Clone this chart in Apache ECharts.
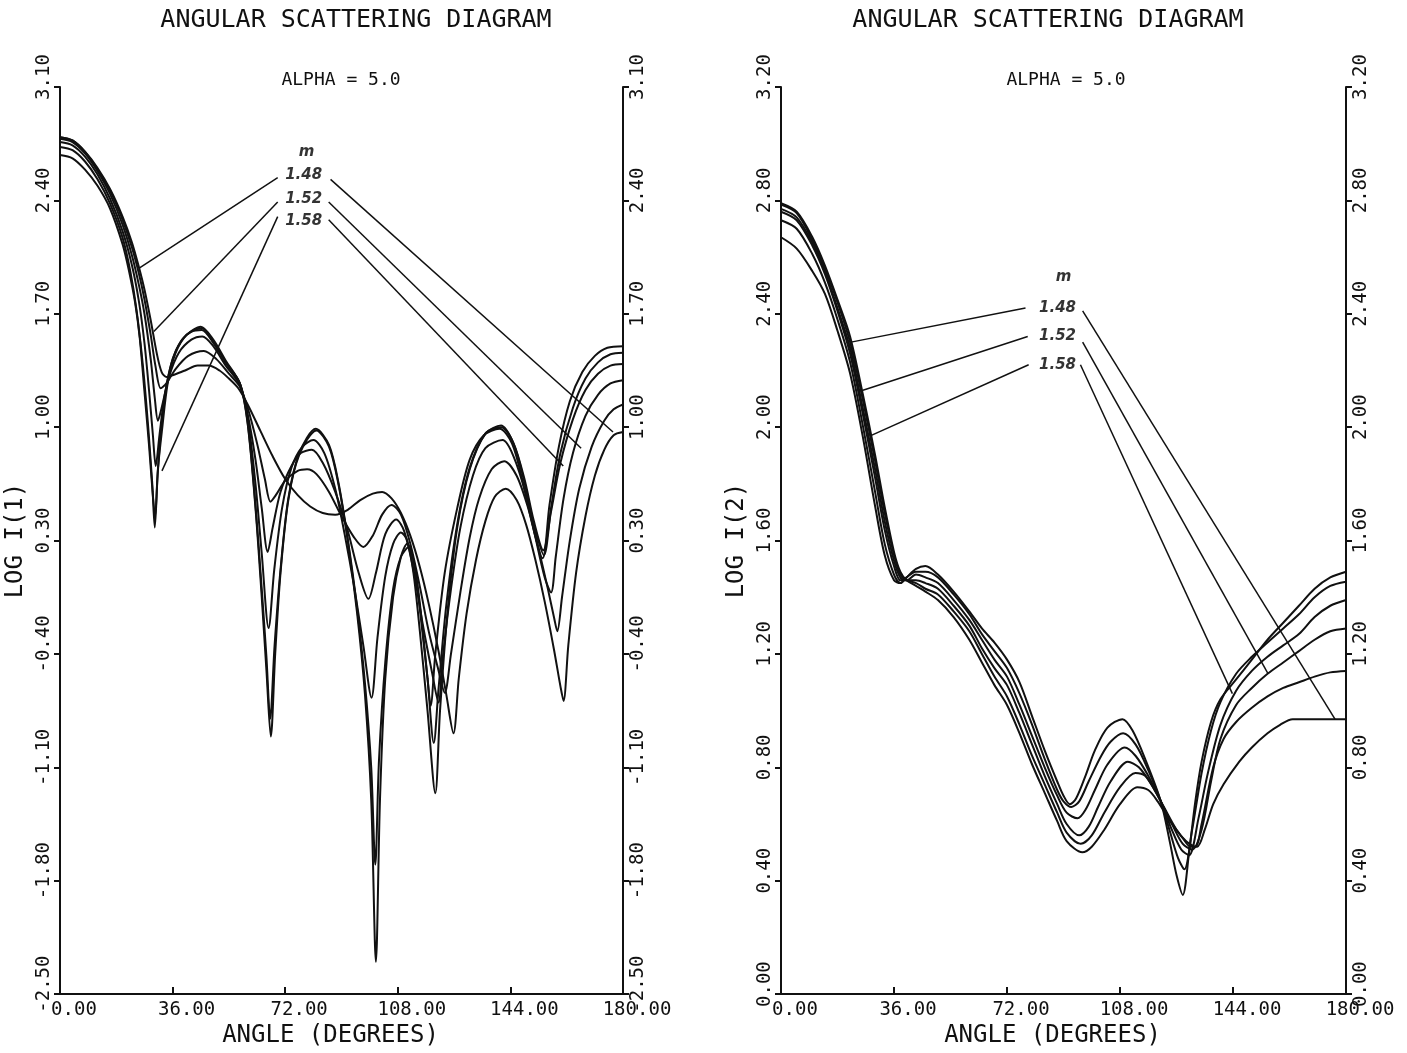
<!DOCTYPE html>
<html>
<head>
<meta charset="utf-8">
<title>Angular scattering diagram</title>
<script src="https://cdn.jsdelivr.net/npm/echarts@6.0.0/dist/echarts.min.js"></script>
<style>
html,body{margin:0;padding:0;background:#fff;}
#main{width:1407px;height:1053px;}
</style>
</head>
<body>
<div id="main"></div>
<script>
// axis ticks
var angleTicks = [0, 36, 72, 108, 144, 180];
var i1Ticks = [-2.5, -1.8, -1.1, -0.4, 0.3, 1.0, 1.7, 2.4, 3.1];
var i2Ticks = [0, 0.4, 0.8, 1.2, 1.6, 2.0, 2.4, 2.8, 3.2];
var mValues = ['1.48', '1.50', '1.52', '1.54', '1.56', '1.58'];
var mShown = ['1.48', '1.52', '1.58'];

// LOG I(1), [angle, log value]
var i1m148 = [[0,2.79],[4,2.77],[8,2.70],[12,2.60],[16,2.47],[20,2.30],[23,2.14],[25.2,1.99],[27,1.85],[29,1.66],[31,1.45],[32.5,1.34],[34,1.31],[36,1.32],[40,1.35],[44,1.38],[47.5,1.38],[51,1.35],[54,1.30],[57,1.24],[60,1.14],[64,0.98],[68,0.82],[72,0.68],[76,0.58],[80,0.51],[84,0.47],[88,0.46],[92,0.49],[96,0.55],[100,0.59],[103,0.60],[106,0.56],[109,0.47],[112,0.33],[115,0.14],[118,-0.10],[121,-0.38],[123.5,-0.65],[125.8,-0.89],[127.5,-0.55],[130,-0.15],[133,0.18],[136,0.42],[139,0.57],[142.5,0.62],[146,0.55],[149,0.40],[152,0.18],[155,-0.08],[158,-0.38],[160,-0.60],[161,-0.69],[162.5,-0.35],[165,0.10],[168,0.45],[171,0.70],[174,0.86],[177,0.95],[180,0.97]];
var i1m150 = [[0,2.79],[4,2.77],[8,2.70],[12,2.59],[16,2.46],[20,2.28],[23,2.11],[25.2,1.95],[27,1.79],[29,1.57],[30.5,1.38],[32.2,1.24],[34,1.27],[37,1.36],[41,1.44],[46,1.47],[50,1.42],[54,1.33],[57.5,1.25],[60,1.12],[63,0.90],[65.5,0.68],[67.3,0.54],[69,0.58],[72,0.67],[76,0.73],[79,0.74],[82,0.71],[86,0.60],[90,0.45],[94,0.32],[97,0.26],[100,0.33],[103,0.46],[106,0.52],[109,0.46],[112,0.28],[115,0.02],[118,-0.27],[121,-0.50],[123,-0.64],[125,-0.40],[128,-0.02],[131,0.32],[134,0.56],[138,0.74],[142,0.79],[146,0.70],[150,0.48],[153,0.25],[156,0.00],[158,-0.18],[159,-0.26],[160.5,-0.05],[163,0.30],[166,0.62],[170,0.88],[174,1.04],[177,1.11],[180,1.14]];
var i1m152 = [[0,2.78],[4,2.76],[8,2.69],[12,2.58],[16,2.44],[20,2.25],[23,2.06],[25.2,1.88],[27,1.70],[29,1.42],[30.3,1.18],[31.3,1.04],[32.5,1.12],[35,1.32],[38,1.46],[42,1.54],[45.5,1.56],[49,1.50],[53,1.38],[57.5,1.26],[60,1.08],[62.5,0.80],[64.5,0.50],[66.4,0.23],[68,0.38],[70.5,0.60],[74,0.76],[77,0.84],[80.5,0.86],[84,0.78],[88,0.60],[92,0.36],[95.5,0.10],[98.6,-0.06],[101,0.10],[104,0.34],[107.5,0.43],[110,0.36],[113,0.12],[116,-0.22],[119,-0.52],[121,-0.70],[122.5,-0.40],[125,0.00],[128,0.38],[132,0.70],[136,0.87],[141.5,0.92],[145,0.82],[149,0.58],[152,0.32],[155,0.07],[157,-0.02],[158.5,0.20],[161,0.56],[164,0.84],[168,1.07],[172,1.20],[176,1.27],[180,1.29]];
var i1m154 = [[0,2.76],[4,2.74],[8,2.67],[12,2.56],[16,2.41],[20,2.21],[23,2.00],[25.2,1.78],[27,1.52],[28.5,1.22],[29.7,0.95],[30.6,0.76],[31.8,0.95],[33.5,1.20],[36,1.42],[39,1.54],[42,1.59],[45.3,1.60],[49,1.52],[53,1.40],[57.5,1.27],[60,1.06],[62.5,0.65],[64.5,0.22],[66.7,-0.24],[68.5,0.12],[71,0.50],[74,0.75],[77.5,0.88],[81,0.92],[84.5,0.84],[88,0.62],[91,0.34],[94,0.02],[97,-0.35],[99.6,-0.67],[101.5,-0.30],[104,0.08],[106.5,0.28],[109,0.35],[111,0.30],[113,0.10],[115,-0.25],[117.5,-0.75],[120,-1.26],[121.5,-0.75],[124,-0.12],[127,0.38],[131,0.74],[136,0.96],[141,1.01],[145,0.90],[148.5,0.68],[151.5,0.42],[154.5,0.24],[157,0.48],[160,0.78],[164,1.05],[168,1.23],[172,1.33],[176,1.38],[180,1.39]];
var i1m156 = [[0,2.73],[4,2.71],[8,2.64],[12,2.53],[16,2.38],[20,2.17],[22.5,1.96],[24.5,1.72],[26.5,1.38],[28.2,1.00],[29.5,0.65],[30.3,0.38],[31.2,0.70],[32.5,1.02],[34.5,1.30],[37,1.47],[40.5,1.57],[45.3,1.61],[49,1.53],[53,1.40],[57.5,1.27],[60,1.02],[62.5,0.50],[64.5,-0.05],[66,-0.50],[67.4,-0.91],[68.8,-0.40],[70.5,0.10],[73,0.55],[76.5,0.83],[82,0.98],[86,0.88],[89,0.65],[92,0.30],[95,-0.15],[97.5,-0.65],[99.5,-1.30],[101,-2.30],[102.3,-1.30],[104,-0.55],[106.5,-0.05],[109,0.20],[111,0.28],[113,0.18],[115,-0.08],[117.5,-0.55],[119.5,-0.95],[121,-0.62],[123.5,-0.10],[127,0.40],[131,0.75],[136,0.96],[141,1.00],[145,0.90],[148.5,0.66],[151.5,0.40],[154.7,0.21],[157,0.50],[160,0.84],[164,1.12],[168,1.30],[172,1.40],[176,1.45],[180,1.46]];
var i1m158 = [[0,2.68],[4,2.66],[8,2.59],[12,2.49],[16,2.35],[20,2.13],[22,1.97],[24,1.77],[25.5,1.55],[27,1.22],[28.5,0.88],[29.6,0.60],[30.4,0.45],[31.3,0.74],[32.6,0.98],[34.5,1.28],[37,1.46],[40.5,1.57],[45,1.62],[49,1.54],[53,1.41],[57.5,1.27],[60,1.03],[62.5,0.52],[64.5,0.00],[66,-0.42],[67.2,-0.80],[68.6,-0.35],[70.5,0.12],[73,0.56],[76.5,0.84],[81.8,0.99],[86,0.89],[89,0.66],[92,0.31],[95,-0.12],[97.5,-0.58],[99.5,-1.10],[100.8,-1.70],[102,-1.05],[104,-0.45],[106.5,0.00],[109,0.20],[111.5,0.26],[113.5,0.12],[115.5,-0.20],[117.5,-0.55],[118.5,-0.72],[120,-0.40],[123,0.10],[127,0.50],[131,0.80],[135.5,0.95],[140.5,0.99],[144.5,0.90],[148,0.66],[151,0.40],[154.3,0.19],[156.5,0.52],[159.5,0.88],[163,1.16],[167,1.34],[171,1.44],[175,1.49],[180,1.50]];

// LOG I(2)
var i2m148 = [[0,2.79],[5,2.76],[10,2.67],[14,2.57],[18,2.45],[22,2.32],[26,2.12],[30,1.90],[33,1.72],[36,1.56],[38,1.49],[40,1.46],[43,1.44],[46,1.42],[50,1.39],[55,1.33],[60,1.25],[64,1.17],[68,1.09],[72,1.02],[76,0.92],[80,0.81],[84,0.71],[88,0.61],[91,0.54],[96,0.50],[99,0.52],[103,0.58],[108,0.67],[113.5,0.73],[117,0.72],[120,0.68],[124,0.61],[128,0.55],[130.5,0.52],[132.6,0.52],[135,0.58],[137.7,0.67],[141,0.74],[146,0.82],[150,0.87],[155,0.92],[159,0.95],[163,0.97],[170,0.97],[175,0.97],[180,0.97]];
var i2m150 = [[0,2.785],[5,2.755],[10,2.66],[14,2.56],[18,2.44],[22,2.30],[26,2.10],[30,1.88],[33,1.70],[36,1.55],[38,1.48],[40,1.46],[43,1.45],[46,1.43],[50,1.41],[55,1.35],[60,1.28],[64,1.20],[68,1.12],[72,1.05],[76,0.95],[80,0.84],[84,0.74],[88,0.64],[91,0.57],[95.5,0.53],[99,0.56],[103,0.64],[108,0.73],[112.9,0.78],[116,0.77],[119,0.72],[122,0.66],[126,0.58],[129,0.54],[132,0.52],[134,0.60],[137.7,0.80],[141,0.90],[145,0.96],[150,1.01],[155,1.05],[160,1.08],[165,1.10],[170,1.12],[175,1.135],[180,1.14]];
var i2m152 = [[0,2.77],[5,2.74],[10,2.65],[14,2.55],[18,2.42],[22,2.28],[26,2.07],[30,1.85],[33,1.67],[36,1.53],[38,1.47],[40,1.46],[43,1.46],[46,1.45],[50,1.43],[55,1.37],[60,1.30],[64,1.22],[68,1.15],[72,1.09],[76,0.99],[80,0.88],[84,0.77],[88,0.67],[91,0.60],[95,0.56],[98,0.59],[101,0.66],[105,0.75],[110.5,0.82],[114,0.80],[118,0.74],[121,0.68],[125,0.59],[128,0.53],[131,0.51],[134,0.58],[137,0.75],[140,0.90],[145,1.02],[150,1.08],[155,1.13],[160,1.17],[165,1.21],[170,1.25],[175,1.28],[180,1.29]];
var i2m154 = [[0,2.76],[5,2.73],[10,2.64],[14,2.54],[18,2.41],[22,2.26],[26,2.05],[30,1.82],[33,1.64],[36,1.51],[38,1.46],[40,1.46],[43,1.48],[46,1.47],[50,1.45],[55,1.39],[60,1.32],[64,1.25],[68,1.18],[72,1.12],[76,1.02],[80,0.91],[84,0.80],[88,0.70],[91,0.64],[94.5,0.62],[97,0.65],[100,0.72],[104,0.81],[109.5,0.87],[113,0.84],[117,0.77],[121,0.68],[124.5,0.58],[127.5,0.51],[130,0.49],[133,0.62],[136,0.78],[140,0.95],[145,1.07],[150,1.14],[155,1.19],[160,1.23],[165,1.27],[170,1.33],[175,1.37],[180,1.39]];
var i2m156 = [[0,2.73],[5,2.70],[10,2.61],[14,2.51],[18,2.38],[22,2.23],[26,2.01],[30,1.77],[33,1.59],[36,1.48],[38,1.45],[40,1.47],[43,1.49],[46,1.49],[50,1.47],[55,1.41],[60,1.34],[64,1.27],[68,1.21],[72,1.15],[76,1.06],[80,0.95],[84,0.83],[88,0.72],[90,0.68],[92.5,0.66],[95,0.68],[98,0.75],[102,0.84],[105,0.89],[109,0.92],[113,0.88],[117,0.79],[121,0.68],[124,0.57],[126.5,0.48],[128.5,0.44],[131,0.58],[134,0.78],[137,0.93],[140,1.03],[145,1.13],[150,1.19],[155,1.24],[160,1.29],[165,1.34],[170,1.40],[175,1.44],[180,1.455]];
var i2m158 = [[0,2.67],[5,2.63],[10,2.55],[14,2.47],[18,2.34],[22,2.19],[26,1.97],[30,1.72],[33,1.55],[36,1.46],[38,1.45],[40,1.47],[43,1.50],[46,1.51],[50,1.48],[55,1.42],[60,1.35],[64,1.29],[68,1.24],[72,1.18],[76,1.10],[80,0.98],[84,0.86],[88,0.75],[90,0.70],[92,0.67],[94,0.69],[97,0.77],[100,0.86],[104,0.94],[108.8,0.97],[112,0.93],[116,0.83],[121,0.68],[124,0.53],[126,0.42],[128,0.35],[130,0.50],[132,0.68],[134,0.82],[137,0.96],[140,1.04],[145,1.11],[150,1.18],[155,1.25],[160,1.31],[165,1.37],[170,1.43],[175,1.47],[180,1.49]];

var i1Curves = [i1m148, i1m150, i1m152, i1m154, i1m156, i1m158];
var i2Curves = [i2m148, i2m150, i2m152, i2m154, i2m156, i2m158];

// where the m labels sit and where their pointers land, in data units
var i1LabelAnchors = [[78.8, 2.70], [77.9, 2.555], [77.9, 2.41], [77.9, 2.275]];
var i1Pointers = [
  [[69.6, 2.54], [25.2, 1.98]], [[86.5, 2.53], [176.8, 0.97]],
  [[69.6, 2.39], [30.0, 1.59]], [[85.9, 2.39], [166.6, 0.87]],
  [[69.6, 2.30], [32.6, 0.73]], [[85.9, 2.28], [160.9, 0.76]]
];
var i2LabelAnchors = [[90.0, 2.53], [88.1, 2.42], [88.1, 2.32], [88.1, 2.22]];
var i2Pointers = [
  [[77.9, 2.42], [22.3, 2.30]], [[96.1, 2.41], [176.5, 0.97]],
  [[78.6, 2.32], [26.1, 2.13]], [[96.1, 2.30], [155.2, 1.13]],
  [[78.9, 2.22], [28.6, 1.97]], [[95.4, 2.22], [143.8, 1.06]]
];

var ink = '#111';
var mono = '"DejaVu Sans Mono", "Liberation Mono", monospace';

var chart = echarts.init(document.getElementById('main'));

var xAxisFor = function (grid) {
  return {
    type: 'value', gridIndex: grid, min: 0, max: 180, interval: 36,
    name: 'ANGLE (DEGREES)', nameLocation: 'middle', nameGap: 26,
    nameTextStyle: {fontFamily: mono, fontSize: 24, color: ink, padding: [0, 22, 0, 0]},
    axisLine: {show: true, onZero: false, lineStyle: {color: ink, width: 2}},
    axisTick: {show: true, inside: true, length: 7, lineStyle: {color: ink, width: 2}},
    axisLabel: {
      fontFamily: mono, fontSize: 19, color: ink, margin: 6, padding: [0, 0, 0, 28],
      formatter: function (v) { return v.toFixed(2); }
    },
    splitLine: {show: false}
  };
};

var yAxisFor = function (grid, pos, min, max, ticks, name) {
  return {
    type: 'value', gridIndex: grid, position: pos, min: min, max: max,
    name: name, nameLocation: 'middle', nameGap: 32, nameRotate: 90,
    nameTextStyle: {fontFamily: mono, fontSize: 24, color: ink},
    axisLine: {show: true, onZero: false, lineStyle: {color: ink, width: 2}},
    axisTick: {show: true, length: 6, customValues: ticks, lineStyle: {color: ink, width: 2}},
    axisLabel: {
      customValues: ticks, rotate: 90, fontFamily: mono, fontSize: 19, color: ink,
      margin: 6, padding: [0, 0, 0, 20],
      formatter: function (v) { return v.toFixed(2); }
    },
    splitLine: {show: false}
  };
};

var series = [];
var addPanel = function (curves, anchors, pointers, xi, yi) {
  curves.forEach(function (c, i) {
    series.push({
      name: 'm ' + mValues[i], type: 'line', xAxisIndex: xi, yAxisIndex: yi,
      data: c, showSymbol: false, smooth: 0.3,
      lineStyle: {color: ink, width: 2}, silent: true
    });
  });
  pointers.forEach(function (p) {
    series.push({
      type: 'line', xAxisIndex: xi, yAxisIndex: yi, data: p, showSymbol: false,
      lineStyle: {color: ink, width: 1.5}, silent: true
    });
  });
  var texts = ['m'].concat(mShown);
  series.push({
    type: 'scatter', xAxisIndex: xi, yAxisIndex: yi, symbolSize: 0, silent: true,
    data: anchors.map(function (a, i) { return [a[0], a[1], texts[i]]; }),
    label: {
      show: true, position: 'inside', color: '#000',
      fontFamily: 'DejaVu Sans', fontStyle: 'italic', fontWeight: 'bold', fontSize: 15,
      formatter: function (p) { return p.value[2]; }
    }
  });
};
addPanel(i1Curves, i1LabelAnchors, i1Pointers, 0, 0);
addPanel(i2Curves, i2LabelAnchors, i2Pointers, 1, 2);

var heading = function (x, y, text, size) {
  return {
    type: 'text', x: x, y: y, silent: true,
    style: {text: text, font: size + 'px ' + mono, fill: ink, align: 'center', textAlign: 'center', verticalAlign: 'top', textVerticalAlign: 'top'}
  };
};

chart.setOption({
  animation: false,
  backgroundColor: '#fff',
  grid: [
    {left: 60, top: 87, width: 563, height: 911},
    {left: 781, top: 87, width: 565, height: 911}
  ],
  xAxis: [xAxisFor(0), xAxisFor(1)],
  yAxis: [
    yAxisFor(0, 'left', -2.5, 3.1, i1Ticks, 'LOG I(1)'),
    yAxisFor(0, 'right', -2.5, 3.1, i1Ticks, ''),
    yAxisFor(1, 'left', 0, 3.2, i2Ticks, 'LOG I(2)'),
    yAxisFor(1, 'right', 0, 3.2, i2Ticks, '')
  ],
  graphic: [
    heading(356, 8, 'ANGULAR SCATTERING DIAGRAM', 25),
    heading(1048, 8, 'ANGULAR SCATTERING DIAGRAM', 25),
    heading(341, 71, 'ALPHA = 5.0', 18),
    heading(1066, 71, 'ALPHA = 5.0', 18)
  ],
  series: series
});
</script>
</body>
</html>
